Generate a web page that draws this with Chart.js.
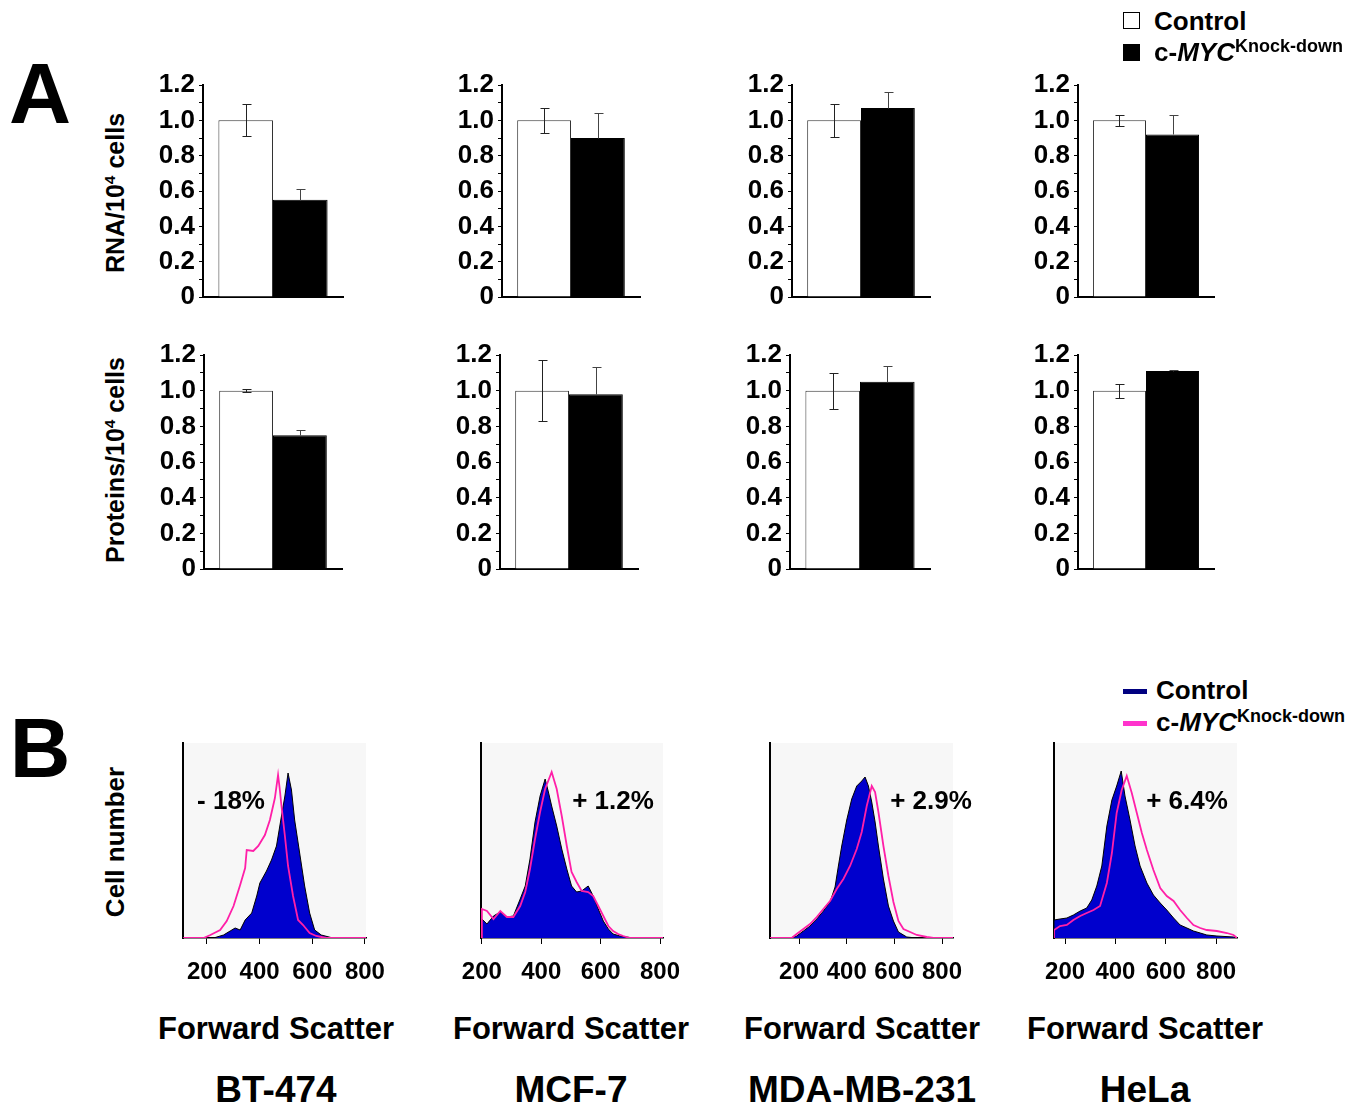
<!DOCTYPE html>
<html>
<head>
<meta charset="utf-8">
<script src="https://cdn.jsdelivr.net/npm/chart.js@4.4.0/dist/chart.umd.min.js"></script>
<style>
body { margin: 0; width: 1364px; height: 1105px; background: #fff; position: relative; overflow: hidden;
       font-family: "Liberation Sans", Arial, sans-serif; font-weight: bold; color: #000; }
canvas, .txt, .key { position: absolute; }
.txt { line-height: 1; white-space: nowrap; transform: translate(-50%, -50%); }
.left { transform: translate(0, -50%); }
.rot { transform: translate(-50%, -50%) rotate(-90deg); }
.sup { font-size: 0.62em; position: relative; top: -0.55em; }
</style>
</head>
<body>
<script>
// -------------------- Data --------------------
const cellLines = ['BT-474', 'MCF-7', 'MDA-MB-231', 'HeLa'];
const sizeChange = ['- 18%', '+ 1.2%', '+ 2.9%', '+ 6.4%'];

const rnaControl = [1.0, 1.0, 1.0, 1.0];
const rnaControlErr = [0.09, 0.07, 0.095, 0.03];
const rnaKnockdown = [0.55, 0.90, 1.07, 0.92];
const rnaKnockdownErr = [0.06, 0.14, 0.09, 0.11];

const protControl = [1.0, 1.0, 1.0, 1.0];
const protControlErr = [0.01, 0.17, 0.10, 0.04];
const protKnockdown = [0.75, 0.98, 1.05, 1.11];
const protKnockdownErr = [0.03, 0.15, 0.09, 0.005];

const barTicks = [0, 0.2, 0.4, 0.6, 0.8, 1.0, 1.2];
const fscTicks = [200, 400, 600, 800];

// forward scatter histograms: [channel, count]
const bt474Control = [[110,0],[225,0],[263,3],[288,7],[307,10],[326,8],[345,18],[370,25],[389,42],[401,55],[426,67],[445,78],[464,92],[483,122],[496,142],[508,165],[521,148],[533,118],[552,85],[571,52],[590,25],[609,8],[634,3],[678,0],[804,0]];
const bt474Knockdown = [[110,0],[187,0],[213,3],[250,8],[275,17],[301,32],[326,53],[345,70],[351,88],[376,87],[395,92],[420,103],[439,118],[458,140],[470,163],[476,150],[483,132],[496,102],[508,72],[527,42],[546,18],[565,13],[590,5],[615,2],[653,0],[804,0]];

const mcf7Control = [[200,0],[200,19],[217,14],[239,22],[262,26],[284,21],[306,22],[329,39],[346,52],[362,79],[379,116],[396,142],[413,159],[424,146],[435,132],[452,112],[469,89],[486,69],[502,52],[519,46],[536,47],[558,52],[575,42],[592,29],[609,17],[626,9],[642,4],[665,2],[710,0],[810,0]];
const mcf7Knockdown = [[200,0],[200,29],[217,27],[239,19],[262,27],[284,21],[306,21],[329,32],[346,46],[362,69],[379,99],[396,126],[413,149],[435,166],[452,149],[469,122],[486,92],[502,66],[519,56],[536,47],[558,46],[575,42],[592,32],[609,22],[626,12],[642,7],[659,4],[676,2],[698,0],[810,0]];

const mdaControl = [[78,0],[162,0],[190,2],[218,7],[246,12],[274,19],[302,27],[330,36],[351,51],[365,72],[379,92],[400,118],[421,139],[442,152],[463,157],[477,161],[491,152],[505,136],[519,116],[533,92],[554,59],[575,32],[596,17],[617,6],[652,1],[694,0],[846,0]];
const mdaKnockdown = [[78,0],[169,0],[190,4],[218,9],[246,14],[274,21],[302,29],[330,37],[358,49],[386,59],[414,72],[442,89],[463,106],[484,132],[505,152],[519,146],[533,126],[554,92],[575,62],[596,36],[617,17],[638,9],[666,6],[694,3],[736,1],[764,0],[846,0]];

const helaControl = [[156,0],[156,18],[180,19],[207,20],[233,23],[260,27],[286,30],[306,38],[326,52],[346,72],[366,112],[386,138],[405,152],[423,167],[438,142],[458,118],[478,92],[498,72],[525,55],[551,43],[578,35],[604,28],[631,20],[657,13],[684,10],[710,7],[737,5],[763,3],[803,2],[869,1],[883,0]];
const helaKnockdown = [[156,0],[156,8],[180,12],[207,13],[233,18],[260,22],[286,25],[313,28],[339,32],[366,55],[386,85],[405,125],[425,148],[445,162],[465,145],[485,125],[505,105],[525,88],[551,68],[578,50],[604,42],[631,37],[657,28],[684,20],[710,13],[737,10],[763,8],[803,7],[843,5],[869,3],[883,0]];

const pink = '#ff1fa8';
const blue = '#0000cd';

// -------------------- Helpers --------------------
function addText(html, cx, cy, size, cls) {
    const d = document.createElement('div');
    d.className = 'txt' + (cls ? ' ' + cls : '');
    d.innerHTML = html;
    d.style.left = cx + 'px';
    d.style.top = cy + 'px';
    d.style.fontSize = size + 'px';
    document.body.appendChild(d);
    return d;
}

function addBox(left, top, w, h, css) {
    const d = document.createElement('div');
    d.className = 'key';
    d.style.cssText += `left:${left}px;top:${top}px;width:${w}px;height:${h}px;` + css;
    document.body.appendChild(d);
}

function addCanvas(left, top, w, h) {
    const c = document.createElement('canvas');
    c.width = w;
    c.height = h;
    c.style.left = left + 'px';
    c.style.top = top + 'px';
    c.style.width = w + 'px';
    c.style.height = h + 'px';
    document.body.appendChild(c);
    return c;
}

// control bars get a full +/- bar, knock-down bars only the upper half (the rest hides in the black)
const errorBars = {
    id: 'errorBars',
    afterDatasetsDraw(chart) {
        const ctx = chart.ctx;
        const y = chart.scales.y;
        chart.data.datasets.forEach((ds, i) => {
            chart.getDatasetMeta(i).data.forEach((bar, j) => {
                const v = ds.data[j], e = ds.errors[j];
                const x = Math.round(bar.x) + 0.5;
                const top = Math.round(y.getPixelForValue(v + e)) + 0.5;
                const bot = Math.round(y.getPixelForValue(i === 0 ? v - e : v)) + 0.5;
                ctx.save();
                ctx.strokeStyle = i === 0 ? '#222' : '#444';
                ctx.lineWidth = 1;
                ctx.beginPath();
                ctx.moveTo(x, top); ctx.lineTo(x, bot);
                ctx.moveTo(x - 4, top); ctx.lineTo(x + 5, top);
                if (i === 0) { ctx.moveTo(x - 4, bot); ctx.lineTo(x + 5, bot); }
                ctx.stroke();
                ctx.restore();
            });
        });
    }
};

const plotBg = {
    id: 'plotBg',
    beforeDraw(chart) {
        const a = chart.chartArea;
        chart.ctx.save();
        chart.ctx.fillStyle = '#f7f7f7';
        chart.ctx.fillRect(a.left, a.top, a.right - a.left, a.bottom - a.top);
        chart.ctx.restore();
    }
};

// -------------------- Panel A: bar charts --------------------
function barChart(area, control, controlErr, knockdown, knockdownErr) {
    const [l, r, t, b] = area;
    const axisW = 62, padTop = 22, xH = 24, padRight = 4;
    const cv = addCanvas(l - axisW, t - padTop, axisW + (r - l) + padRight, padTop + (b - t) + xH);
    new Chart(cv, {
        type: 'bar',
        data: {
            labels: [''],
            datasets: [
                { data: [control], errors: [controlErr], backgroundColor: '#fff', borderColor: '#333', borderWidth: 1 },
                { data: [knockdown], errors: [knockdownErr], backgroundColor: '#000', borderColor: '#000', borderWidth: 1 }
            ]
        },
        options: {
            responsive: false,
            animation: false,
            devicePixelRatio: 1,
            layout: { padding: { top: padTop, right: padRight, left: 0, bottom: 0 } },
            datasets: { bar: { categoryPercentage: 0.78, barPercentage: 1 } },
            plugins: { legend: { display: false }, tooltip: { enabled: false } },
            scales: {
                x: {
                    grid: { display: false },
                    ticks: { display: false },
                    border: { color: '#000', width: 2 },
                    afterFit: s => { s.height = xH; }
                },
                y: {
                    min: 0, max: 1.2,
                    afterFit: s => { s.width = axisW; },
                    ticks: {
                        stepSize: 0.1, autoSkip: false, padding: 4, color: '#000',
                        font: { family: 'Liberation Sans', weight: 'bold', size: 26 },
                        callback: v => {
                            const hit = barTicks.find(t => Math.abs(t - v) < 1e-6);
                            if (hit === undefined) return '';
                            return hit === 0 ? '0' : hit.toFixed(1);
                        }
                    },
                    grid: { drawOnChartArea: false, tickLength: 4, color: '#000' },
                    border: { color: '#000', width: 2 }
                }
            }
        },
        plugins: [errorBars]
    });
}

const rnaAreas = [[203, 343, 85, 297], [502, 640, 85, 297], [792, 930, 85, 297], [1078, 1214, 85, 297]];
const protAreas = [[204, 342, 355, 569], [500, 638, 355, 569], [790, 930, 355, 569], [1078, 1214, 355, 569]];

cellLines.forEach((name, i) => {
    barChart(rnaAreas[i], rnaControl[i], rnaControlErr[i], rnaKnockdown[i], rnaKnockdownErr[i]);
    barChart(protAreas[i], protControl[i], protControlErr[i], protKnockdown[i], protKnockdownErr[i]);
});

// -------------------- Panel B: histograms --------------------
function histChart(area, xMin, xMax, control, knockdown) {
    const [l, r, t, b] = area;
    const padL = 32, padR = 34, padTop = 4, xH = 50, yW = 2;
    const cv = addCanvas(l - padL - yW, t - padTop, padL + yW + (r - l) + padR, padTop + (b - t) + xH);
    new Chart(cv, {
        type: 'line',
        data: {
            datasets: [
                { data: knockdown.map(p => ({ x: p[0], y: p[1] })), borderColor: pink, borderWidth: 1.8, fill: false, pointRadius: 0 },
                { data: control.map(p => ({ x: p[0], y: p[1] })), borderColor: '#000', borderWidth: 1, backgroundColor: blue, fill: 'origin', pointRadius: 0 }
            ]
        },
        options: {
            responsive: false,
            animation: false,
            devicePixelRatio: 1,
            layout: { padding: { left: padL, right: padR, top: padTop, bottom: 0 } },
            plugins: { legend: { display: false }, tooltip: { enabled: false } },
            scales: {
                x: {
                    type: 'linear', min: xMin, max: xMax,
                    afterBuildTicks: s => { s.ticks = fscTicks.map(v => ({ value: v })); },
                    afterFit: s => { s.height = xH; },
                    ticks: { color: '#000', padding: 14, maxRotation: 0, font: { family: 'Liberation Sans', weight: 'bold', size: 24 } },
                    grid: { drawOnChartArea: false, tickLength: 6, color: '#000' },
                    border: { color: '#000', width: 1.5 }
                },
                y: {
                    min: 0, max: 195,
                    afterFit: s => { s.width = yW; },
                    ticks: { display: false },
                    grid: { display: false },
                    border: { color: '#000', width: 2 }
                }
            }
        },
        plugins: [plotBg]
    });
}

histChart([183, 366, 743, 938], 109, 804, bt474Control, bt474Knockdown);
histChart([481, 663, 743, 938], 197, 810, mcf7Control, mcf7Knockdown);
histChart([770, 953, 743, 938], 78, 846, mdaControl, mdaKnockdown);
histChart([1054, 1237, 743, 938], 156, 883, helaControl, helaKnockdown);

// -------------------- Text --------------------
addText('A', 40, 93, 86);
addText('B', 40, 748, 84);

addText('RNA/10<span class="sup">4</span> cells', 115, 193, 25, 'rot');
addText('Proteins/10<span class="sup">4</span> cells', 115, 460, 25, 'rot');
addText('Cell number', 115, 842, 26, 'rot');

// legend A
addBox(1123, 12, 17, 17, 'border:1.5px solid #000;box-sizing:border-box;background:#fff;');
addBox(1123, 44, 17, 17, 'background:#000;');
addText('Control', 1154, 21, 26, 'left');
addText('c-<i>MYC</i><span style="font-size:18px;position:relative;top:-9px;">Knock-down</span>', 1154, 52, 26, 'left');

// legend B
addBox(1123, 689, 24, 5, 'background:#000080;');
addBox(1123, 721, 24, 5, 'background:#ff33cc;');
addText('Control', 1156, 690, 26, 'left');
addText('c-<i>MYC</i><span style="font-size:18px;position:relative;top:-9px;">Knock-down</span>', 1156, 722, 26, 'left');

const scatterCenters = [276, 571, 862, 1145];
const annoCenters = [231, 613, 931, 1187];
cellLines.forEach((name, i) => {
    addText(sizeChange[i], annoCenters[i], 800, 26);
    addText('Forward Scatter', scatterCenters[i], 1028, 31);
    addText(name, scatterCenters[i], 1089, 37);
});
</script>
</body>
</html>
